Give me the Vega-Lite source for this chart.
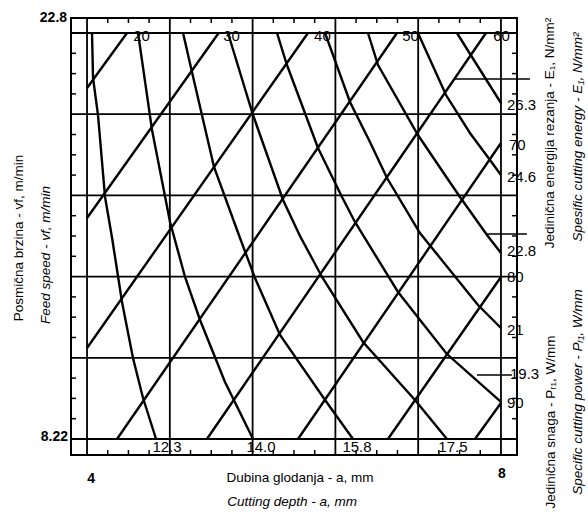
{
  "$schema": "https://vega.github.io/schema/vega-lite/v6.json",
  "width": 446,
  "height": 437,
  "autosize": {"type": "none"},
  "padding": {"left": 71, "top": 18, "right": 71, "bottom": 61},
  "background": "white",
  "config": {
    "view": {"stroke": "black", "strokeWidth": 2},
    "font": "Liberation Sans"
  },
  "datasets": {
    "vgrid": [{"a": 4.0}, {"a": 4.8}, {"a": 5.6}, {"a": 6.4}, {"a": 7.2}, {"a": 8.0}],
    "hgrid": [{"vf": 8.22}, {"vf": 11.136}, {"vf": 14.052}, {"vf": 16.968}, {"vf": 19.884}, {"vf": 22.8}],
    "xticks": [{"a": 4.2}, {"a": 4.4}, {"a": 4.6}, {"a": 5.0}, {"a": 5.2}, {"a": 5.4}, {"a": 5.8}, {"a": 6.0}, {"a": 6.2}, {"a": 6.6}, {"a": 6.8}, {"a": 7.0}, {"a": 7.4}, {"a": 7.6}, {"a": 7.8}],
    "yticks": [{"vf": 8.949}, {"vf": 9.678}, {"vf": 10.407}, {"vf": 11.865}, {"vf": 12.594}, {"vf": 13.323}, {"vf": 14.781}, {"vf": 15.51}, {"vf": 16.239}, {"vf": 17.697}, {"vf": 18.426}, {"vf": 19.155}, {"vf": 20.613}, {"vf": 21.342}, {"vf": 22.071}],
    "curves": [
      {"id": "P12.3", "a": 4.048, "vf": 22.8}, {"id": "P12.3", "a": 4.058, "vf": 21.184}, {"id": "P12.3", "a": 4.106, "vf": 19.855}, {"id": "P12.3", "a": 4.174, "vf": 16.91}, {"id": "P12.3", "a": 4.242, "vf": 15.438}, {"id": "P12.3", "a": 4.338, "vf": 13.14}, {"id": "P12.3", "a": 4.444, "vf": 11.129}, {"id": "P12.3", "a": 4.541, "vf": 9.692}, {"id": "P12.3", "a": 4.667, "vf": 8.22},
      {"id": "P14.0", "a": 4.493, "vf": 22.8}, {"id": "P14.0", "a": 4.628, "vf": 19.316}, {"id": "P14.0", "a": 4.802, "vf": 16.013}, {"id": "P14.0", "a": 4.947, "vf": 14.038}, {"id": "P14.0", "a": 5.092, "vf": 12.493}, {"id": "P14.0", "a": 5.333, "vf": 10.267}, {"id": "P14.0", "a": 5.604, "vf": 8.22},
      {"id": "P15.8", "a": 4.928, "vf": 22.8}, {"id": "P15.8", "a": 5.014, "vf": 21.399}, {"id": "P15.8", "a": 5.227, "vf": 17.988}, {"id": "P15.8", "a": 5.478, "vf": 15.438}, {"id": "P15.8", "a": 5.623, "vf": 14.002}, {"id": "P15.8", "a": 5.865, "vf": 11.955}, {"id": "P15.8", "a": 6.3, "vf": 9.621}, {"id": "P15.8", "a": 6.57, "vf": 8.22},
      {"id": "P17.5", "a": 5.362, "vf": 22.8}, {"id": "P17.5", "a": 5.604, "vf": 19.855}, {"id": "P17.5", "a": 5.894, "vf": 16.803}, {"id": "P17.5", "a": 6.058, "vf": 15.51}, {"id": "P17.5", "a": 6.271, "vf": 14.038}, {"id": "P17.5", "a": 6.667, "vf": 11.703}, {"id": "P17.5", "a": 7.169, "vf": 9.621}, {"id": "P17.5", "a": 7.478, "vf": 8.22},
      {"id": "P19.3", "a": 5.836, "vf": 22.8}, {"id": "P19.3", "a": 5.932, "vf": 21.651}, {"id": "P19.3", "a": 6.232, "vf": 18.67}, {"id": "P19.3", "a": 6.464, "vf": 16.91}, {"id": "P19.3", "a": 6.589, "vf": 16.013}, {"id": "P19.3", "a": 7.005, "vf": 13.499}, {"id": "P19.3", "a": 7.475, "vf": 11.28}, {"id": "P19.3", "a": 8.0, "vf": 9.55},
      {"id": "P21", "a": 6.3, "vf": 22.8}, {"id": "P21", "a": 6.541, "vf": 20.322}, {"id": "P21", "a": 6.734, "vf": 18.886}, {"id": "P21", "a": 6.899, "vf": 17.593}, {"id": "P21", "a": 7.217, "vf": 15.618}, {"id": "P21", "a": 7.778, "vf": 13.032}, {"id": "P21", "a": 8.0, "vf": 12.206},
      {"id": "P22.8", "a": 6.715, "vf": 22.8}, {"id": "P22.8", "a": 6.812, "vf": 21.651}, {"id": "P22.8", "a": 7.198, "vf": 19.137}, {"id": "P22.8", "a": 7.459, "vf": 17.701}, {"id": "P22.8", "a": 7.604, "vf": 16.91}, {"id": "P22.8", "a": 7.865, "vf": 15.546}, {"id": "P22.8", "a": 8.0, "vf": 14.899},
      {"id": "P24.6", "a": 7.198, "vf": 22.8}, {"id": "P24.6", "a": 7.469, "vf": 20.573}, {"id": "P24.6", "a": 7.7, "vf": 19.209}, {"id": "P24.6", "a": 7.894, "vf": 18.239}, {"id": "P24.6", "a": 8.0, "vf": 17.7},
      {"id": "P26.3", "a": 7.575, "vf": 22.8}, {"id": "P26.3", "a": 7.72, "vf": 21.938}, {"id": "P26.3", "a": 8.0, "vf": 20.286},
      {"id": "E20", "a": 4.0, "vf": 20.825}, {"id": "E20", "a": 4.386, "vf": 22.8},
      {"id": "E30", "a": 4.0, "vf": 16.156}, {"id": "E30", "a": 5.272, "vf": 22.8},
      {"id": "E40", "a": 4.0, "vf": 11.488}, {"id": "E40", "a": 6.135, "vf": 22.8},
      {"id": "E50", "a": 4.29, "vf": 8.22}, {"id": "E50", "a": 6.995, "vf": 22.8},
      {"id": "E60", "a": 5.159, "vf": 8.22}, {"id": "E60", "a": 7.855, "vf": 22.8},
      {"id": "E70", "a": 6.039, "vf": 8.22}, {"id": "E70", "a": 8.0, "vf": 18.85},
      {"id": "E80", "a": 6.908, "vf": 8.22}, {"id": "E80", "a": 8.0, "vf": 14.038},
      {"id": "E90", "a": 7.749, "vf": 8.22}, {"id": "E90", "a": 8.0, "vf": 9.513}
    ],
    "leaders": [
      {"a1": 7.556, "a2": 8.28, "vf": 21.148},
      {"a1": 7.865, "a2": 8.251, "vf": 15.582},
      {"a1": 7.768, "a2": 8.106, "vf": 10.518}
    ],
    "labC": [
      {"t": "20", "a": 4.527, "vf": 22.69}, {"t": "30", "a": 5.396, "vf": 22.69}, {"t": "40", "a": 6.275, "vf": 22.69}, {"t": "50", "a": 7.126, "vf": 22.69}, {"t": "60", "a": 8.005, "vf": 22.69},
      {"t": "12.3", "a": 4.773, "vf": 7.933}, {"t": "14.0", "a": 5.681, "vf": 7.933}, {"t": "15.8", "a": 6.609, "vf": 7.933}, {"t": "17.5", "a": 7.536, "vf": 7.933}
    ],
    "labR": [
      {"t": "26.3", "a": 8.058, "vf": 20.214}, {"t": "70", "a": 8.077, "vf": 18.778}, {"t": "24.6", "a": 8.058, "vf": 17.629}, {"t": "22.8", "a": 8.058, "vf": 14.97},
      {"t": "80", "a": 8.058, "vf": 14.038}, {"t": "21", "a": 8.058, "vf": 12.134}, {"t": "19.3", "a": 8.087, "vf": 10.554}, {"t": "90", "a": 8.058, "vf": 9.513}
    ],
    "labL": [
      {"t": "22.8", "a": 3.807, "vf": 23.339}, {"t": "8.22", "a": 3.816, "vf": 8.292}
    ],
    "labB": [
      {"t": "4", "a": 4.039, "vf": 6.784}, {"t": "8", "a": 8.01, "vf": 6.963}
    ],
    "titleB": [{"t": "Dubina glodanja - a, mm", "a": 6.058, "vf": 6.82}],
    "titleBi": [{"t": "Cutting depth - a, mm", "a": 5.981, "vf": 5.958}],
    "rotN": [
      {"t": "Posmična brzina - vf, m/min", "a": 3.343, "vf": 15.438},
      {"t": "Jedinična energija rezanja - E₁, N/mm²", "a": 8.473, "vf": 19.209},
      {"t": "Jedinična snaga - Pᵣ₁, W/mm", "a": 8.483, "vf": 8.83}
    ],
    "rotI": [
      {"t": "Feed speed - vf, m/min", "a": 3.604, "vf": 14.828},
      {"t": "Spesific cutting energy - E₁, N/mm²", "a": 8.744, "vf": 19.065},
      {"t": "Specific cutting power - Pᵣ₁, W/mm", "a": 8.744, "vf": 9.908}
    ]
  },
  "encoding": {
    "x": {"type": "quantitative", "scale": {"domain": [3.845, 8.155], "nice": false, "zero": false}, "axis": null},
    "y": {"type": "quantitative", "scale": {"domain": [7.645, 23.339], "nice": false, "zero": false}, "axis": null}
  },
  "layer": [
    {
      "data": {"name": "vgrid"},
      "mark": {"type": "rule", "color": "black", "strokeWidth": 1.8},
      "encoding": {"x": {"field": "a", "type": "quantitative"}, "y": null}
    },
    {
      "data": {"name": "hgrid"},
      "mark": {"type": "rule", "color": "black", "strokeWidth": 1.8},
      "encoding": {"y": {"field": "vf", "type": "quantitative"}, "x": null}
    },
    {
      "data": {"name": "xticks"},
      "mark": {"type": "rule", "color": "black", "strokeWidth": 1.5},
      "encoding": {"x": {"field": "a", "type": "quantitative"}, "y": {"datum": 7.645}, "y2": {"datum": 7.825}}
    },
    {
      "data": {"name": "xticks"},
      "mark": {"type": "rule", "color": "black", "strokeWidth": 1.5},
      "encoding": {"x": {"field": "a", "type": "quantitative"}, "y": {"datum": 23.339}, "y2": {"datum": 23.159}}
    },
    {
      "data": {"name": "yticks"},
      "mark": {"type": "rule", "color": "black", "strokeWidth": 1.5},
      "encoding": {"y": {"field": "vf", "type": "quantitative"}, "x": {"datum": 3.845}, "x2": {"datum": 3.893}}
    },
    {
      "data": {"name": "yticks"},
      "mark": {"type": "rule", "color": "black", "strokeWidth": 1.5},
      "encoding": {"y": {"field": "vf", "type": "quantitative"}, "x": {"datum": 8.155}, "x2": {"datum": 8.107}}
    },
    {
      "data": {"name": "curves"},
      "mark": {"type": "line", "color": "black", "strokeWidth": 2.4, "strokeCap": "butt"},
      "encoding": {
        "x": {"field": "a", "type": "quantitative"},
        "y": {"field": "vf", "type": "quantitative"},
        "detail": {"field": "id", "type": "nominal"}
      }
    },
    {
      "data": {"name": "leaders"},
      "mark": {"type": "rule", "color": "black", "strokeWidth": 1.5},
      "encoding": {
        "x": {"field": "a1", "type": "quantitative"},
        "x2": {"field": "a2"},
        "y": {"field": "vf", "type": "quantitative"}
      }
    },
    {
      "data": {"name": "labC"},
      "mark": {"type": "text", "align": "center", "baseline": "middle", "fontSize": 15, "color": "black"},
      "encoding": {
        "x": {"field": "a", "type": "quantitative"},
        "y": {"field": "vf", "type": "quantitative"},
        "text": {"field": "t"}
      }
    },
    {
      "data": {"name": "labR"},
      "mark": {"type": "text", "align": "left", "baseline": "middle", "fontSize": 15, "color": "black"},
      "encoding": {
        "x": {"field": "a", "type": "quantitative"},
        "y": {"field": "vf", "type": "quantitative"},
        "text": {"field": "t"}
      }
    },
    {
      "data": {"name": "labL"},
      "mark": {"type": "text", "align": "right", "baseline": "middle", "fontSize": 14, "fontWeight": "bold", "color": "black"},
      "encoding": {
        "x": {"field": "a", "type": "quantitative"},
        "y": {"field": "vf", "type": "quantitative"},
        "text": {"field": "t"}
      }
    },
    {
      "data": {"name": "labB"},
      "mark": {"type": "text", "align": "center", "baseline": "middle", "fontSize": 14, "fontWeight": "bold", "color": "black"},
      "encoding": {
        "x": {"field": "a", "type": "quantitative"},
        "y": {"field": "vf", "type": "quantitative"},
        "text": {"field": "t"}
      }
    },
    {
      "data": {"name": "titleB"},
      "mark": {"type": "text", "align": "center", "baseline": "middle", "fontSize": 13.5, "color": "black"},
      "encoding": {
        "x": {"field": "a", "type": "quantitative"},
        "y": {"field": "vf", "type": "quantitative"},
        "text": {"field": "t"}
      }
    },
    {
      "data": {"name": "titleBi"},
      "mark": {"type": "text", "align": "center", "baseline": "middle", "fontSize": 13.5, "fontStyle": "italic", "color": "black"},
      "encoding": {
        "x": {"field": "a", "type": "quantitative"},
        "y": {"field": "vf", "type": "quantitative"},
        "text": {"field": "t"}
      }
    },
    {
      "data": {"name": "rotN"},
      "mark": {"type": "text", "align": "center", "baseline": "middle", "angle": 270, "fontSize": 13.5, "color": "black"},
      "encoding": {
        "x": {"field": "a", "type": "quantitative"},
        "y": {"field": "vf", "type": "quantitative"},
        "text": {"field": "t"}
      }
    },
    {
      "data": {"name": "rotI"},
      "mark": {"type": "text", "align": "center", "baseline": "middle", "angle": 270, "fontSize": 13.5, "fontStyle": "italic", "color": "black"},
      "encoding": {
        "x": {"field": "a", "type": "quantitative"},
        "y": {"field": "vf", "type": "quantitative"},
        "text": {"field": "t"}
      }
    }
  ]
}
